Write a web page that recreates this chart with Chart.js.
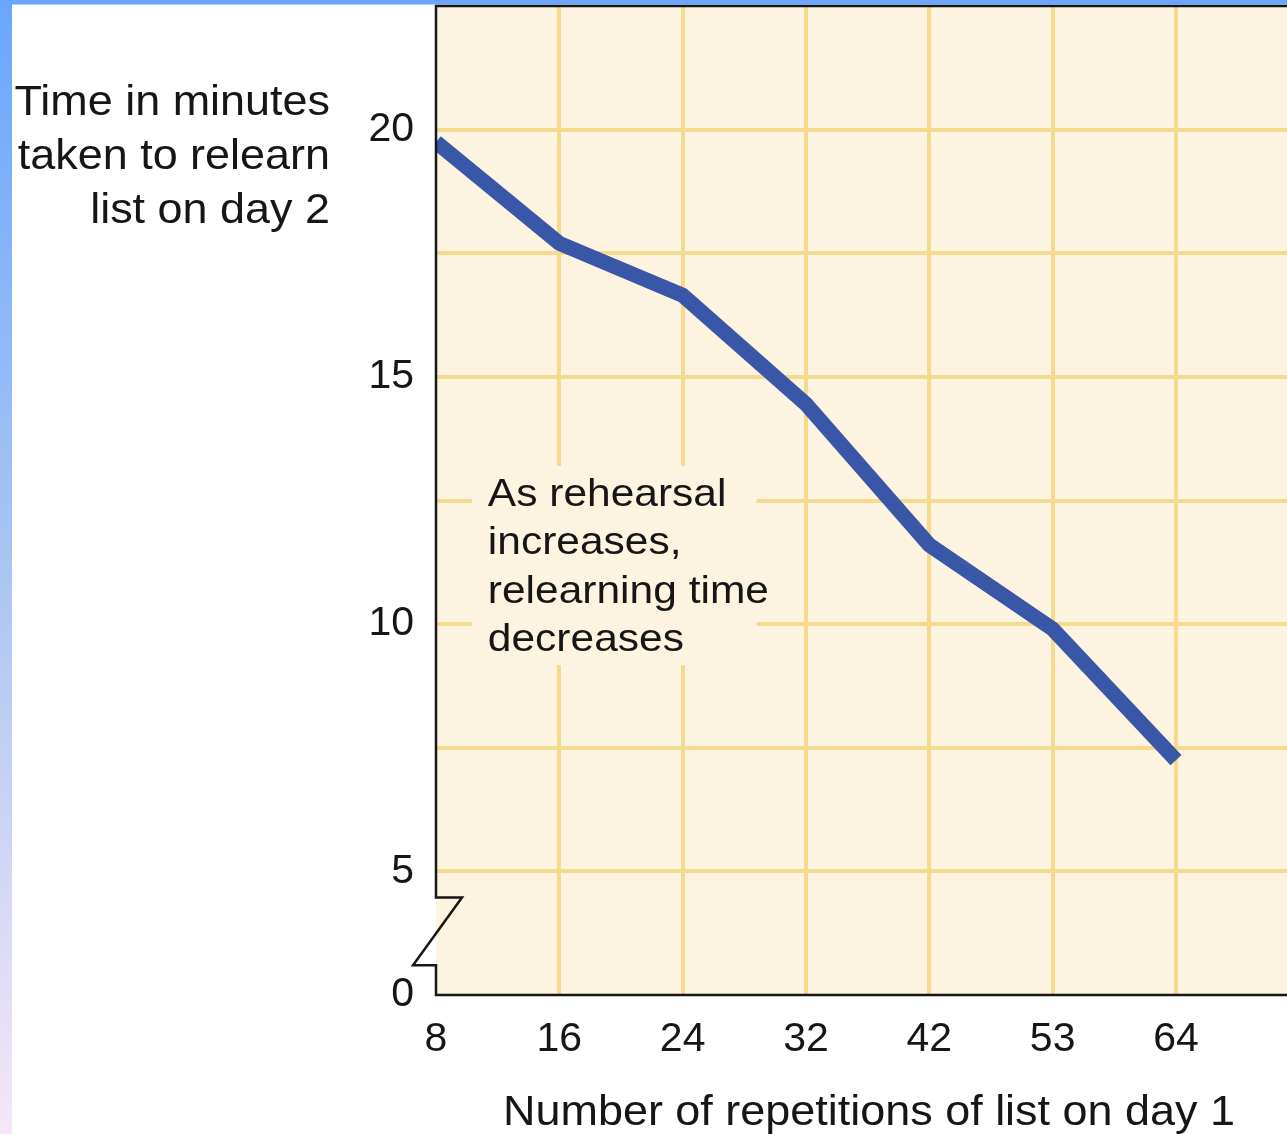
<!DOCTYPE html>
<html>
<head>
<meta charset="utf-8">
<style>
  html, body { margin: 0; padding: 0; background: #fff; overflow: hidden; }
  canvas { display: block; }
</style>
<script src="https://cdn.jsdelivr.net/npm/chart.js@4.4.1/dist/chart.umd.min.js"></script>
</head>
<body>
<canvas id="c" width="1287" height="1134"></canvas>
<script>
// Relearning time vs. rehearsal on the first day
const repetitions = ['8', '16', '24', '32', '42', '53', '64'];
const relearnMinutes = [19.75, 17.7, 16.65, 14.45, 11.6, 9.9, 7.25];

// Broken y axis: the bottom line stands for 0, the rest is linear from 5 up
const yTickValues = [2.5, 5, 10, 15, 20];
const yTickLabels = ['0', '5', '10', '15', '20'];

const yTitleLines = ['Time in minutes', 'taken to relearn', 'list on day 2'];
const xTitle = 'Number of repetitions of list on day 1';
const noteLines = ['As rehearsal', 'increases,', 'relearning time', 'decreases'];

const FONT = '"Liberation Sans", Arial, Helvetica, sans-serif';
const INK = '#161616';
const PAPER = '#fdf3e1';
const GRID = '#f5d98c';
const LINE = '#3a56a6';

function wideText(ctx, text, x, y, size, align, sx) {
  ctx.save();
  ctx.font = size + 'px ' + FONT;
  ctx.fillStyle = INK;
  ctx.textAlign = align;
  ctx.textBaseline = 'alphabetic';
  ctx.translate(x, y);
  ctx.scale(sx, 1);
  ctx.fillText(text, 0, 0);
  ctx.restore();
}

const decor = {
  id: 'decor',
  beforeDraw(chart) {
    const { ctx, width, height, chartArea: a } = chart;
    ctx.save();
    ctx.fillStyle = '#fff';
    ctx.fillRect(0, 0, width, height);
    // slide frame: gradient strip on the left, bar on top
    const g = ctx.createLinearGradient(0, 0, 0, height);
    g.addColorStop(0, '#6aa6ff');
    g.addColorStop(0.5, '#aac5f2');
    g.addColorStop(1, '#f5e6f7');
    ctx.fillStyle = g;
    ctx.fillRect(0, 0, 12, height);
    ctx.fillStyle = '#6aa6ff';
    ctx.fillRect(0, 0, width, 4.5);
    // graph paper
    ctx.fillStyle = PAPER;
    ctx.fillRect(a.left, a.top, a.right - a.left, a.bottom - a.top);
    ctx.restore();
  },
  beforeDatasetsDraw(chart) {
    const { ctx, scales: { x, y } } = chart;
    // plain panel behind the note
    const l = x.getPixelForValue(0.29), r = x.getPixelForValue(2.6);
    const t = y.getPixelForValue(13.2), b = y.getPixelForValue(9.17);
    ctx.save();
    ctx.fillStyle = PAPER;
    ctx.fillRect(l, t, r - l, b - t);
    ctx.restore();
  },
  afterDatasetsDraw(chart) {
    const { ctx, chartArea: a, scales: { x, y } } = chart;
    const L = x.getPixelForValue(0);
    const yb1 = y.getPixelForValue(4.47);
    const yb2 = y.getPixelForValue(3.1);
    ctx.save();
    ctx.strokeStyle = INK;
    ctx.lineWidth = 2.5;
    ctx.lineJoin = 'miter';
    ctx.beginPath();
    ctx.moveTo(a.right + 2, a.top);
    ctx.lineTo(L, a.top);
    ctx.lineTo(L, yb1);
    ctx.lineTo(L + 26, yb1);
    ctx.lineTo(L - 23, yb2);
    ctx.lineTo(L, yb2);
    ctx.lineTo(L, a.bottom);
    ctx.lineTo(a.right + 2, a.bottom);
    ctx.stroke();
    ctx.restore();

    // note inside the plot
    const nx = x.getPixelForValue(0.42);
    const ny = y.getPixelForValue(12.39);
    noteLines.forEach((s, i) => wideText(ctx, s, nx, ny + i * 48.5, 39, 'left', 1.09));
  },
  afterDraw(chart) {
    const { ctx } = chart;
    yTitleLines.forEach((s, i) => wideText(ctx, s, 330, 115 + i * 54, 42, 'right', 1.07));
    wideText(ctx, xTitle, 869, 1125, 42, 'center', 1.07);
  }
};

const near = (a, b) => Math.abs(a - b) < 1e-6;

new Chart(document.getElementById('c'), {
  type: 'line',
  data: {
    datasets: [{
      data: relearnMinutes.map((v, i) => ({ x: i, y: v })),
      borderColor: LINE,
      borderWidth: 15,
      borderCapStyle: 'butt',
      borderJoinStyle: 'miter',
      pointRadius: 0,
      tension: 0,
      clip: 0,
      fill: false
    }]
  },
  options: {
    responsive: false,
    animation: false,
    events: [],
    layout: { padding: { top: 6, left: 0, right: 0, bottom: 0 } },
    plugins: { legend: { display: false }, tooltip: { enabled: false } },
    scales: {
      x: {
        type: 'linear',
        min: 0,
        max: 6.9,
        afterFit(s) {
          s.height = 139;
          s.paddingLeft = 0;
          s.paddingRight = 0;
        },
        border: { display: false },
        grid: {
          drawTicks: false,
          lineWidth: 4,
          color: c => (c.tick && near(c.tick.value, 0)) ? 'rgba(0,0,0,0)' : GRID
        },
        ticks: {
          stepSize: 1,
          includeBounds: false,
          autoSkip: false,
          maxRotation: 0,
          padding: 20,
          color: INK,
          font: { size: 41, family: FONT },
          callback: v => Number.isInteger(v) ? (repetitions[v] ?? '') : ''
        }
      },
      y: {
        type: 'linear',
        min: 2.5,
        max: 22.5,
        afterFit(s) {
          s.width = 436;
          s.paddingTop = 0;
          s.paddingBottom = 0;
        },
        border: { display: false },
        grid: {
          drawTicks: false,
          lineWidth: 4,
          color: c => (c.tick && (near(c.tick.value, 2.5) || near(c.tick.value, 22.5))) ? 'rgba(0,0,0,0)' : GRID
        },
        ticks: {
          stepSize: 2.5,
          autoSkip: false,
          padding: 22,
          color: INK,
          font: { size: 41, family: FONT },
          callback: v => {
            const i = yTickValues.findIndex(t => near(t, v));
            return i >= 0 ? yTickLabels[i] : '';
          }
        }
      }
    }
  },
  plugins: [decor]
});
</script>
</body>
</html>
